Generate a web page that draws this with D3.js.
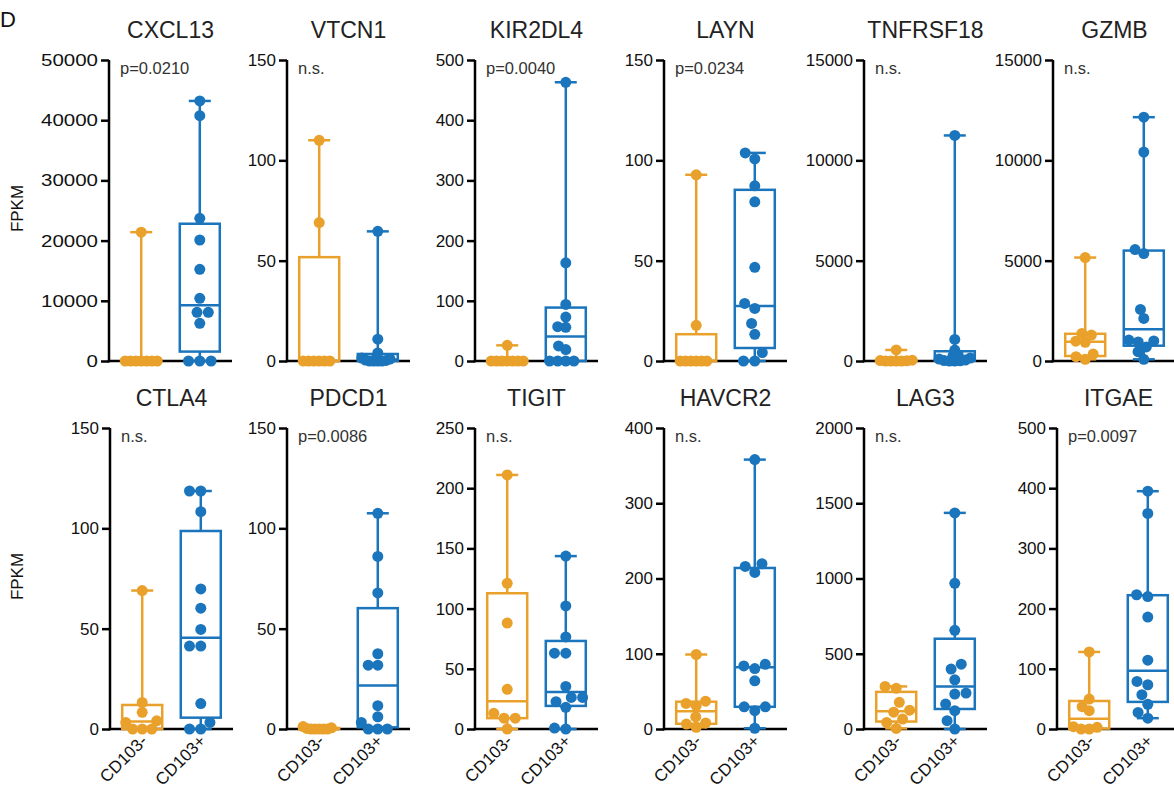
<!DOCTYPE html>
<html>
<head>
<meta charset="utf-8">
<script src="https://cdn.jsdelivr.net/npm/d3@7"></script>
<style>
  body { margin: 0; background: #fff; }
  svg text { font-family: "Liberation Sans", Arial, sans-serif; }
</style>
</head>
<body>
<div id="wrap"></div>
<script>
// 数据
const groups = ["CD103-", "CD103+"];
const genes = ["CXCL13", "VTCN1", "KIR2DL4", "LAYN", "TNFRSF18", "GZMB",
               "CTLA4", "PDCD1", "TIGIT", "HAVCR2", "LAG3", "ITGAE"];
const pLabels = ["p=0.0210", "n.s.", "p=0.0040", "p=0.0234", "n.s.", "n.s.",
                 "n.s.", "p=0.0086", "n.s.", "n.s.", "n.s.", "p=0.0097"];
const yMax = [50000, 150, 500, 150, 15000, 15000, 150, 150, 250, 400, 2000, 500];
const yStep = [10000, 50, 100, 50, 5000, 5000, 50, 50, 50, 100, 500, 100];

// CD103-
const negVals = [
  [21400, 0, 0, 0, 0, 0, 0, 0],
  [110, 69, 0, 0, 0, 0, 0, 0],
  [26, 0, 0, 0, 0, 0, 0, 0],
  [92.8, 17.8, 0, 0, 0, 0, 0, 0],
  [550, 40, 20, 10, 0, 0, 0, 0],
  [5155, 1376, 1293, 990, 930, 348, 215, 83],
  [69, 13.2, 8.3, 4.1, 3.3, 0, 0, 0],
  [1.2, 0.6, 0.3, 0, 0, 0, 0, 0],
  [211, 121, 88, 33, 13, 9, 9, 0],
  [99, 37, 34, 31, 16, 8, 6.6, 2.2],
  [283, 270, 177, 125, 112, 66, 44, 4],
  [128, 49.7, 37, 30.4, 3.9, 2.8, 0, 0]
];
// CD103+
const posVals = [
  [43200, 40750, 23700, 20100, 15230, 10410, 8080, 8080, 6260, 0, 0, 0],
  [64.6, 10.9, 4, 2, 1.5, 1, 0.5, 0.3, 0, 0, 0, 0],
  [463, 163, 94, 73, 57, 56, 25, 19, 0, 0, 0, 0],
  [103.7, 100.7, 87.3, 79.3, 46.7, 28.7, 26.2, 18.7, 13.3, 4.2, 0, 0],
  [11240, 1077, 547, 300, 250, 150, 100, 50, 20, 10, 0, 0],
  [12150, 10410, 5553, 5354, 2569, 2122, 1044, 1000, 950, 700, 464, 83],
  [118.6, 118.6, 108.3, 69.8, 60.2, 49.6, 41.3, 41.3, 12.7, 3.3, 0, 0],
  [107.5, 86, 67.8, 37.5, 31.8, 31.8, 11.6, 6.1, 3.3, 0, 0, 0],
  [143.6, 102.2, 76.5, 63, 63, 35.4, 26.2, 26.2, 22.7, 18, 0.8, 0],
  [358, 219.6, 216, 208, 86, 83.8, 80.3, 64, 29.5, 29.5, 24.3, 1],
  [1436, 968, 656, 431, 398, 327, 239, 232, 166, 122, 55, 0],
  [395, 358, 223, 220, 186, 114.4, 79, 73.5, 57, 41, 27.6, 18]
];

const width = 1174;
const height = 795;
const colors = ["#E9A12B", "#1B75BC"];
const colLeft = [[109, 287, 475, 664, 864, 1053], [110, 287, 475, 664, 864, 1057]];
const rowTop = [60, 428];
const plotH = 301;
const plotW = 123;
const boxW = 40;
const capW = 22;
const r = 5.5;
const lw = 2.5;

let svg = d3.select("#wrap")
  .append("svg")
  .attr("width", width)
  .attr("height", height);

svg.append("text")
  .attr("x", 0).attr("y", 27)
  .attr("font-size", 22).attr("fill", "#111")
  .text("D");

// GraphPad 式分位数
function quant(sorted, q) {
  const n = sorted.length;
  const p = q * (n + 1);
  const lo = Math.floor(p);
  const f = p - lo;
  if (lo < 1) return sorted[0];
  if (lo >= n) return sorted[n - 1];
  return sorted[lo - 1] + f * (sorted[lo] - sorted[lo - 1]);
}

// 蜂群散点
function place(vals, y, d) {
  const placed = [];
  vals.slice().sort(d3.ascending).forEach(v => {
    const py = y(v);
    const near = placed.filter(p => Math.abs(p.y - py) < d);
    const cands = [0];
    near.forEach(p => {
      const dx = Math.sqrt(d * d - (p.y - py) ** 2);
      cands.push(p.dx + dx, p.dx - dx);
    });
    cands.sort((a, b) => Math.abs(a) - Math.abs(b) || a - b);
    const x = cands.find(c => near.every(p => (p.dx - c) ** 2 + (p.y - py) ** 2 >= d * d - 1e-6));
    placed.push({ v: v, y: py, dx: x });
  });
  return placed;
}
function swarm(vals, y, maxHalf) {
  let d = 2 * r + 0.3;
  let pts = place(vals, y, d);
  for (let k = 0; k < 40 && d3.max(pts, p => Math.abs(p.dx)) > maxHalf; k++) {
    d *= 0.92;
    pts = place(vals, y, d);
  }
  return pts;
}

genes.forEach((gene, i) => {
  const row = Math.floor(i / 6);
  const col = i % 6;
  const x0 = colLeft[row][col];
  const top = rowTop[row];
  const bottom = top + plotH;
  const g = svg.append("g");

  const y = d3.scaleLinear().domain([0, yMax[i]]).range([bottom, top]);
  const x = d3.scalePoint().domain(groups).range([x0, x0 + plotW]).padding(0.55);

  // 标题
  g.append("text")
    .attr("x", x0 + plotW / 2).attr("y", top - 22)
    .attr("text-anchor", "middle")
    .attr("font-size", 23).attr("fill", "#222")
    .text(gene);

  // y 轴
  const yAxis = d3.axisLeft(y)
    .tickValues(d3.range(0, yMax[i] + 1, yStep[i]))
    .tickFormat(d3.format("d"))
    .tickSize(8).tickSizeOuter(0).tickPadding(3);
  const ga = g.append("g").attr("transform", `translate(${x0},0)`).call(yAxis);
  ga.select(".domain").attr("stroke", "#000").attr("stroke-width", lw)
    .attr("d", `M0,${top}V${bottom + lw / 2}`);
  ga.selectAll(".tick line").attr("stroke", "#000").attr("stroke-width", lw);
  const tt = ga.selectAll(".tick text").attr("font-size", 17).attr("fill", "#111")
    .attr("font-family", "Liberation Sans, Arial, sans-serif");
  // 第一幅图的刻度字更宽
  if (i === 0) {
    tt.attr("textLength", function() { return this.textContent.length * 11.4; })
      .attr("lengthAdjust", "spacingAndGlyphs");
  }

  // x 轴
  g.append("line")
    .attr("x1", x0 - lw / 2).attr("x2", x0 + plotW)
    .attr("y1", bottom).attr("y2", bottom)
    .attr("stroke", "#000").attr("stroke-width", lw);

  if (row === 1) {
    groups.forEach(grp => {
      g.append("text")
        .attr("transform", `translate(${x(grp) + 6},${bottom + 13}) rotate(-45)`)
        .attr("text-anchor", "end")
        .attr("font-size", 17).attr("fill", "#111")
        .text(grp);
    });
  }

  // p 值
  g.append("text")
    .attr("x", x0 + 11).attr("y", top + 14)
    .attr("font-family", "Open Sans, sans-serif")
    .attr("font-size", 16.5).attr("fill", "#333")
    .text(pLabels[i]);

  // 箱线图
  [negVals[i], posVals[i]].forEach((vals, gi) => {
    const c = colors[gi];
    const cx = x(groups[gi]);
    const s = vals.slice().sort(d3.ascending);
    const q1 = quant(s, 0.25), med = quant(s, 0.5), q3 = quant(s, 0.75);
    const mn = s[0], mx = s[s.length - 1];
    const bg = g.append("g").attr("stroke", c).attr("stroke-width", lw).attr("fill", "none");
    bg.append("line").attr("x1", cx).attr("x2", cx).attr("y1", y(mx)).attr("y2", y(q3));
    bg.append("line").attr("x1", cx).attr("x2", cx).attr("y1", y(q1)).attr("y2", y(mn));
    bg.append("line").attr("x1", cx - capW / 2).attr("x2", cx + capW / 2).attr("y1", y(mx)).attr("y2", y(mx));
    bg.append("line").attr("x1", cx - capW / 2).attr("x2", cx + capW / 2).attr("y1", y(mn)).attr("y2", y(mn));
    bg.append("rect")
      .attr("x", cx - boxW / 2).attr("y", y(q3))
      .attr("width", boxW).attr("height", Math.max(0, y(q1) - y(q3)));
    bg.append("line").attr("x1", cx - boxW / 2).attr("x2", cx + boxW / 2).attr("y1", y(med)).attr("y2", y(med));

    const pts = swarm(vals, y, 17);
    g.append("g").selectAll("circle")
      .data(pts)
      .enter()
      .append("circle")
      .attr("cx", d => cx + d.dx)
      .attr("cy", d => d.y)
      .attr("r", r)
      .attr("fill", c);
  });

  // FPKM
  if (col === 0) {
    g.append("text")
      .attr("transform", `translate(23,${(top + bottom) / 2 - 2}) rotate(-90)`)
      .attr("text-anchor", "middle")
      .attr("font-size", 17).attr("fill", "#111")
      .text("FPKM");
  }
});
</script>
</body>
</html>
